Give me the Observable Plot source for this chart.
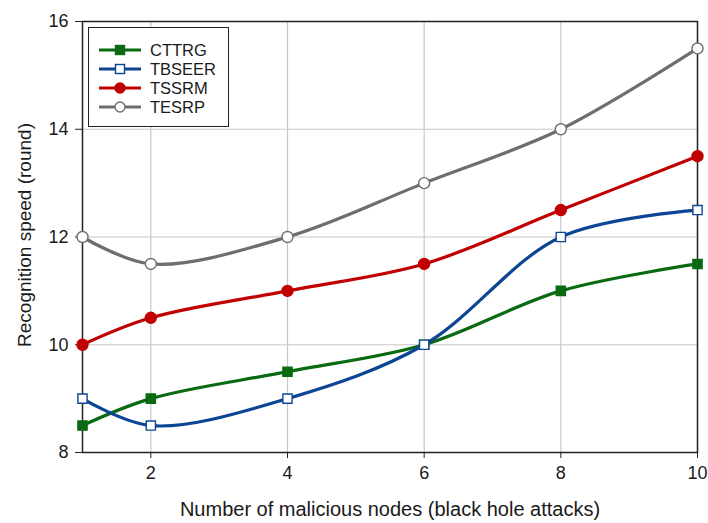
<!DOCTYPE html>
<html>
<head>
<meta charset="utf-8">
<script src="https://cdn.jsdelivr.net/npm/d3@7"></script>
<script src="https://cdn.jsdelivr.net/npm/@observablehq/plot@0.6"></script>
<style>
  body { margin: 0; background: #fff; }
  #wrap { position: relative; width: 708px; height: 523px; font-family: "Liberation Sans", Arial, sans-serif; }
  #wrap svg [aria-label$="tick label"] text { font-size: 18px !important; }
  .title { position: absolute; color: #1a1a1a; white-space: nowrap; }
  #legend { position: absolute; left: 88px; top: 27px; width: 141px; height: 100px; border: 1.5px solid #222; background: #fff; box-sizing: border-box; }
  .li { position: absolute; left: 8px; height: 19px; display: flex; align-items: center; font-size: 16.5px; color: #1a1a1a; }
  .li svg { margin-right: 7px; }
</style>
</head>
<body>
<div id="wrap"></div>
<script>
const xValues = [1, 2, 4, 6, 8, 10];
const seriesNames = ["CTTRG", "TBSEER", "TSSRM", "TESRP"];
const CTTRG = [8.5, 9, 9.5, 10, 11, 11.5];
const TBSEER = [9, 8.5, 9, 10, 12, 12.5];
const TSSRM = [10, 10.5, 11, 11.5, 12.5, 13.5];
const TESRP = [12, 11.5, 12, 13, 14, 15.5];
const xTicks = [2, 4, 6, 8, 10];
const yTicks = [8, 10, 12, 14, 16];

const colors = {CTTRG: "#0a6a12", TBSEER: "#0d4595", TSSRM: "#c00000", TESRP: "#6e6e6e"};
const symbols = {CTTRG: "square", TBSEER: "square", TSSRM: "circle", TESRP: "circle"};
const fills = {CTTRG: "#0a6a12", TBSEER: "#fff", TSSRM: "#c00000", TESRP: "#fff"};
const valuesBy = {CTTRG, TBSEER, TSSRM, TESRP};

const data = seriesNames.flatMap(s => xValues.map((x, i) => ({series: s, x, y: valuesBy[s][i]})));

const marks = [
  Plot.gridX(xTicks, {stroke: "#c8c8c8", strokeOpacity: 1, strokeWidth: 1.2}),
  Plot.gridY(yTicks, {stroke: "#c8c8c8", strokeOpacity: 1, strokeWidth: 1.2}),
  Plot.axisX(xTicks, {tickSize: 6, tickPadding: 8, fontSize: 18, tickFormat: d3.format("d"), label: null, stroke: "#222", color: "#1a1a1a"}),
  Plot.axisY(yTicks, {tickSize: 7, tickPadding: 7, fontSize: 18, tickFormat: d3.format("d"), label: null, stroke: "#222", color: "#1a1a1a"}),
  Plot.frame({stroke: "#222", strokeWidth: 1.5})
];
for (const s of seriesNames) {
  const d = data.filter(r => r.series === s);
  marks.push(Plot.line(d, {x: "x", y: "y", stroke: colors[s], strokeWidth: 3.2, curve: "catmull-rom"}));
  marks.push(Plot.dot(d, {x: "x", y: "y", symbol: symbols[s], r: symbols[s] === "square" ? 5.2 : 5.5, fill: fills[s], stroke: colors[s], strokeWidth: 1.4}));
}

const chart = Plot.plot({
  width: 708,
  height: 523,
  marginLeft: 82,
  marginRight: 11,
  marginTop: 21,
  marginBottom: 71,
  x: {domain: [1, 10]},
  y: {domain: [8, 16]},
  style: {fontFamily: "Liberation Sans, Arial, sans-serif", fontSize: "18px", background: "#fff"},
  marks
});

const wrap = document.getElementById("wrap");
wrap.appendChild(chart);

const xt = document.createElement("div");
xt.className = "title";
xt.textContent = "Number of malicious nodes (black hole attacks)";
xt.style.fontSize = "20px";
xt.style.left = "390px";
xt.style.top = "509px";
xt.style.transform = "translate(-50%, -50%)";
wrap.appendChild(xt);

const yt = document.createElement("div");
yt.className = "title";
yt.textContent = "Recognition speed (round)";
yt.style.fontSize = "19px";
yt.style.left = "25px";
yt.style.top = "235px";
yt.style.transform = "translate(-50%, -50%) rotate(-90deg)";
wrap.appendChild(yt);

const lg = document.createElement("div");
lg.id = "legend";
seriesNames.forEach((s, i) => {
  const row = document.createElement("div");
  row.className = "li";
  row.style.top = (12.5 + i * 19) + "px";
  const mk = symbols[s] === "square"
    ? `<rect x="18.5" y="4.5" width="9" height="9" fill="${fills[s]}" stroke="${colors[s]}" stroke-width="1.4"/>`
    : `<circle cx="23" cy="9" r="5" fill="${fills[s]}" stroke="${colors[s]}" stroke-width="1.4"/>`;
  row.innerHTML = `<svg width="46" height="18"><line x1="2" y1="9" x2="44" y2="9" stroke="${colors[s]}" stroke-width="3.2"/>${mk}</svg><span>${s}</span>`;
  lg.appendChild(row);
});
wrap.appendChild(lg);
</script>
</body>
</html>
